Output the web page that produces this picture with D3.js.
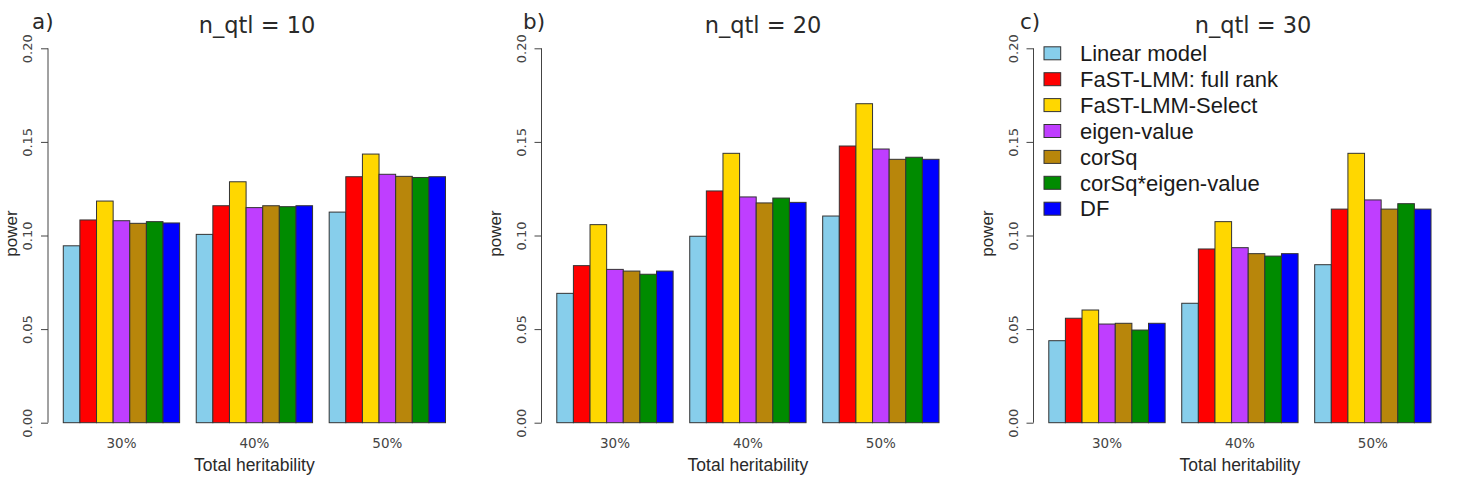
<!DOCTYPE html>
<html>
<head>
<meta charset="utf-8">
<script src="https://cdn.jsdelivr.net/npm/d3@7"></script>
<style>
  html, body { margin: 0; padding: 0; background: #fff; }
  svg { display: block; }
</style>
</head>
<body>
<svg id="chart" width="1458" height="482"></svg>
<script>
// ---------------- data ----------------
const categories = ["30%", "40%", "50%"];
const seriesNames = ["Linear model", "FaST-LMM: full rank", "FaST-LMM-Select",
  "eigen-value", "corSq", "corSq*eigen-value", "DF"];
const panelLetters = ["a)", "b)", "c)"];
const panelTitles = ["n_qtl = 10", "n_qtl = 20", "n_qtl = 30"];
const yTicks = [0, 0.05, 0.10, 0.15, 0.20];
const yTickLabels = ["0.00", "0.05", "0.10", "0.15", "0.20"];
const xLabel = "Total heritability";
const yLabel = "power";

// values[category][series]
const powerQtl10 = [
  [0.0945, 0.1083, 0.1184, 0.1079, 0.1065, 0.1074, 0.1067],
  [0.1006, 0.1159, 0.1287, 0.1149, 0.1159, 0.1154, 0.1159],
  [0.1125, 0.1314, 0.1435, 0.1327, 0.1316, 0.1310, 0.1314]
];
const powerQtl20 = [
  [0.0691, 0.0839, 0.1058, 0.0819, 0.0810, 0.0793, 0.0810],
  [0.0996, 0.1238, 0.1439, 0.1206, 0.1174, 0.1200, 0.1177],
  [0.1104, 0.1478, 0.1704, 0.1462, 0.1407, 0.1418, 0.1407]
];
const powerQtl30 = [
  [0.0438, 0.0558, 0.0602, 0.0527, 0.0531, 0.0495, 0.0531],
  [0.0638, 0.0928, 0.1074, 0.0935, 0.0903, 0.0890, 0.0903],
  [0.0844, 0.1141, 0.1439, 0.1190, 0.1141, 0.1170, 0.1141]
];
const panelData = [powerQtl10, powerQtl20, powerQtl30];

// ---------------- styles / layout ----------------
const colors = ["#87CEEB", "#FF0000", "#FFD700", "#BF3EFF", "#B8860B", "#008B00", "#0000FF"];
const axisXs = [48, 541.5, 1033.5];
const titleXs = [257, 763, 1253];
const letterXs = [32, 523, 1020];
const plotTop = 48.3, plotBottom = 422.7;
const plotWidth = 412.8;

const svg = d3.select("#chart");

const y = d3.scaleLinear().domain([0, 0.2]).range([plotBottom, plotTop]);

panelData.forEach((data, p) => {
  const ax = axisXs[p];
  const g = svg.append("g");

  // unit scale as in R barplot (xlim = [1,24] extended 4%)
  const xs = d3.scaleLinear().domain([0.08, 24.92]).range([ax, ax + plotWidth]);
  const x0 = d3.scaleBand().domain(categories)
    .range([xs(0), xs(24)])
    .paddingInner(1 / 8).paddingOuter(1 / 16).align(1);
  const x1 = d3.scaleBand().domain(seriesNames).range([0, x0.bandwidth()]);

  // bars
  const groups = g.selectAll("g.grp").data(categories).join("g")
    .attr("class", "grp")
    .attr("transform", c => `translate(${x0(c)},0)`);
  groups.selectAll("rect").data((c, i) => data[i].map((v, j) => ({ v, s: seriesNames[j], j })))
    .join("rect")
    .attr("x", d => x1(d.s))
    .attr("width", x1.bandwidth())
    .attr("y", d => y(d.v))
    .attr("height", d => y(0) - y(d.v))
    .attr("fill", d => colors[d.j])
    .attr("stroke", "#333")
    .attr("stroke-width", 1);

  // y axis
  const yAxis = d3.axisLeft(y).tickValues(yTicks).tickSize(7)
    .tickFormat((d, i) => yTickLabels[i]);
  const ya = g.append("g").attr("transform", `translate(${ax},0)`).call(yAxis);
  ya.select(".domain").attr("stroke", "#444").attr("d", `M0,${y(0)}V${y(0.2)}`);
  ya.selectAll(".tick line").attr("stroke", "#444");
  ya.selectAll(".tick text")
    .attr("font-family", "DejaVu Sans")
    .attr("font-size", 13)
    .attr("fill", "#444")
    .attr("x", null).attr("dy", null)
    .attr("text-anchor", "middle")
    .attr("transform", "translate(-16,0) rotate(-90)");

  // x category labels
  const xAxis = d3.axisBottom(x0).tickSize(0);
  const xa = g.append("g").attr("transform", `translate(0,${plotBottom})`).call(xAxis);
  xa.select(".domain").remove();
  xa.selectAll(".tick text")
    .attr("font-family", "DejaVu Sans")
    .attr("font-size", 13.5)
    .attr("fill", "#444")
    .attr("y", 25).attr("dy", null);

  // axis titles
  g.append("text")
    .attr("x", xs(12.5)).attr("y", 471)
    .attr("text-anchor", "middle")
    .attr("font-family", "Liberation Sans")
    .attr("font-size", 17.5)
    .attr("fill", "#2a2a2a")
    .text(xLabel);
  g.append("text")
    .attr("transform", `translate(${Math.max(ax - 41, 17)},${(plotTop + plotBottom) / 2 - 2}) rotate(-90)`)
    .attr("text-anchor", "middle")
    .attr("font-family", "Liberation Sans")
    .attr("font-size", 17)
    .attr("fill", "#2a2a2a")
    .text(yLabel);

  // title and panel letter
  g.append("text")
    .attr("x", titleXs[p]).attr("y", 33)
    .attr("text-anchor", "middle")
    .attr("font-family", "DejaVu Sans")
    .attr("font-size", 22.5)
    .attr("fill", "#2a2a2a")
    .text(panelTitles[p]);
  g.append("text")
    .attr("x", letterXs[p]).attr("y", 29)
    .attr("font-family", "DejaVu Sans")
    .attr("font-size", 21.5)
    .attr("fill", "#2a2a2a")
    .text(panelLetters[p]);

  // legend in the last panel
  if (p === 2) {
    const lg = g.append("g");
    const rows = lg.selectAll("g").data(seriesNames).join("g")
      .attr("transform", (d, i) => `translate(${ax + 10.5},${53.3 + i * 25.9})`);
    rows.append("rect")
      .attr("x", 0).attr("y", -6.5)
      .attr("width", 16.7).attr("height", 13)
      .attr("fill", (d, i) => colors[i])
      .attr("stroke", "#333").attr("stroke-width", 1);
    rows.append("text")
      .attr("x", 36).attr("y", 0).attr("dy", "0.35em")
      .attr("font-family", "Liberation Sans")
      .attr("font-size", 22)
      .attr("fill", "#1a1a1a")
      .text(d => d);
  }
});
</script>
</body>
</html>
